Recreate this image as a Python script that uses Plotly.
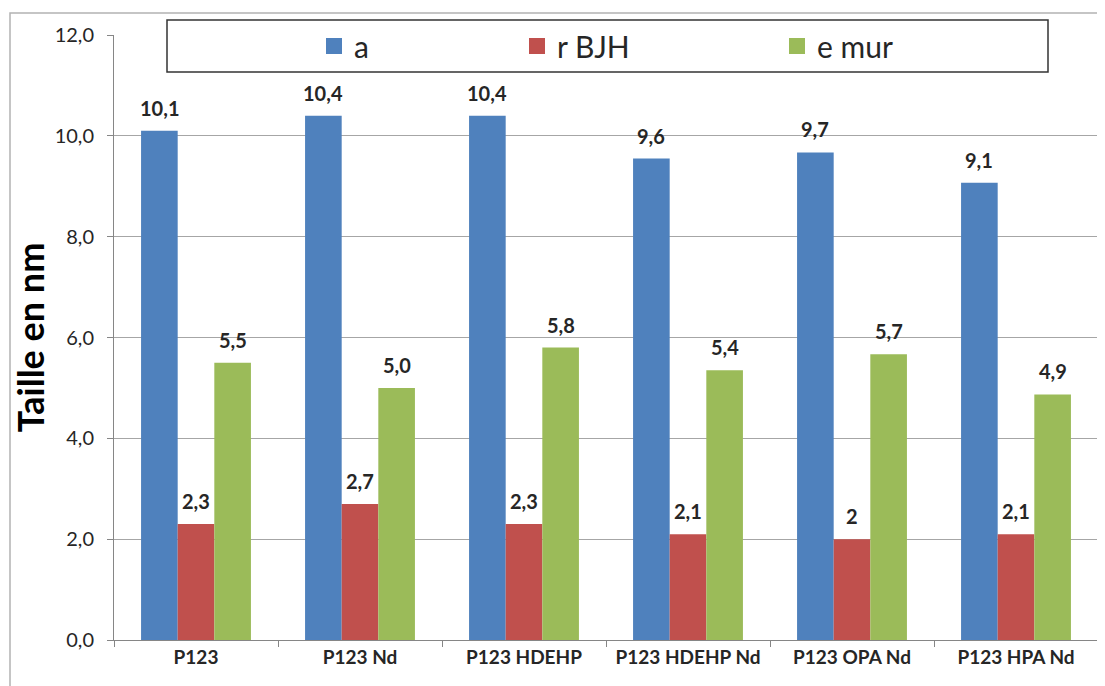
import plotly.graph_objects as go

categories = ["P123", "P123 Nd", "P123 HDEHP", "P123 HDEHP Nd", "P123 OPA Nd", "P123 HPA Nd"]
series_names = ["a", "r BJH", "e mur"]
a_values = [10.1, 10.4, 10.4, 9.55, 9.67, 9.07]
r_values = [2.3, 2.7, 2.3, 2.1, 2.0, 2.1]
e_values = [5.5, 5.0, 5.8, 5.35, 5.67, 4.87]
a_labels = ["10,1", "10,4", "10,4", "9,6", "9,7", "9,1"]
r_labels = ["2,3", "2,7", "2,3", "2,1", "2", "2,1"]
e_labels = ["5,5", "5,0", "5,8", "5,4", "5,7", "4,9"]
ytick_vals = [0, 2, 4, 6, 8, 10, 12]
ytick_text = ["0,0", "2,0", "4,0", "6,0", "8,0", "10,0", "12,0"]
y_title = "Taille en nm"

colors = ["#4F81BD", "#C0504D", "#9BBB59"]
values = [a_values, r_values, e_values]
labels = [a_labels, r_labels, e_labels]
legend_ids = ["legend", "legend2", "legend3"]

FONT = "Lato, 'Open Sans', sans-serif"

fig = go.Figure()
for name, vals, col in zip(series_names, values, colors):
    fig.add_trace(go.Bar(
        x=categories, y=vals, name=name, showlegend=False,
        marker=dict(color=col, line=dict(width=0)),
        hoverinfo="skip",
    ))

# legend entries (square swatches) for each series
for name, col, lg in zip(series_names, colors, legend_ids):
    fig.add_trace(go.Scatter(
        x=[categories[0]], y=[None], mode="markers", name=name, legend=lg,
        showlegend=True,
        marker=dict(symbol="square", size=21, color=col),
        hoverinfo="skip",
    ))

# data labels via annotations positioned on the category axis
bar_px = 36.7
for k, (vals, labs) in enumerate(zip(values, labels)):
    for c, v, t in zip(categories, vals, labs):
        fig.add_annotation(
            x=c, y=v, text=t, showarrow=False,
            xshift=(k - 1) * bar_px, yshift=23, yanchor="middle",
            font=dict(family=FONT, size=20, color="#262626", weight="bold"),
        )

# page body has an 8px margin; work in screen pixels and convert
OFF = 8
W, H = 1097, 678
# plot area in screen pixels: x 114..1098, y 35..640
L = 114 - OFF
T = 35 - OFF
R = W - (1098 - OFF)
B = H - (640 - OFF)
pw, ph = W - L - R, H - T - B


def px_x(x):
    return (x - OFF - L) / pw


def px_y(y):
    return (H - B - (y - OFF)) / ph


shapes = [
    # outer chart frame
    dict(type="rect", xref="paper", yref="paper",
         x0=px_x(10), x1=px_x(1115), y0=px_y(700), y1=px_y(13),
         line=dict(color="#B3B3B3", width=1.5), fillcolor="rgba(0,0,0,0)", layer="below"),
    # legend box
    dict(type="rect", xref="paper", yref="paper",
         x0=px_x(167), x1=px_x(1048), y0=px_y(72), y1=px_y(20),
         line=dict(color="#333333", width=1.5), fillcolor="white", layer="above"),
]

legend_common = dict(
    orientation="h", yanchor="middle", xanchor="left",
    bgcolor="rgba(0,0,0,0)", borderwidth=0, itemsizing="trace",
    font=dict(family=FONT, size=30, color="#262626"),
)

fig.update_layout(
    width=W, height=H,
    margin=dict(l=L, r=R, t=T, b=B, autoexpand=False),
    paper_bgcolor="white", plot_bgcolor="white",
    barmode="group", bargap=0.33, bargroupgap=0,
    shapes=shapes,
    showlegend=True,
    legend=dict(legend_common, x=px_x(314), y=px_y(46)),
    legend2=dict(legend_common, x=px_x(517), y=px_y(46)),
    legend3=dict(legend_common, x=px_x(777), y=px_y(46)),
    xaxis=dict(
        type="category", tickson="boundaries", ticks="outside", ticklen=6,
        tickcolor="#868686", showline=True, linecolor="#868686", linewidth=1,
        showgrid=False, automargin=False,
        tickfont=dict(family=FONT, size=19, color="#262626", weight="bold"),
    ),
    yaxis=dict(
        range=[0, 12], tickvals=ytick_vals, ticktext=ytick_text,
        ticks="outside", ticklen=6, tickcolor="#868686",
        showline=True, linecolor="#868686", linewidth=1,
        showgrid=True, gridcolor="#A6A6A6", gridwidth=1, zeroline=False,
        automargin=False, ticklabelstandoff=9,
        tickfont=dict(family=FONT, size=20, color="#262626"),
        title=dict(text=y_title, standoff=8,
                   font=dict(family=FONT, size=36, color="#000000", weight="bold")),
    ),
)

fig.write_html("out.html")
